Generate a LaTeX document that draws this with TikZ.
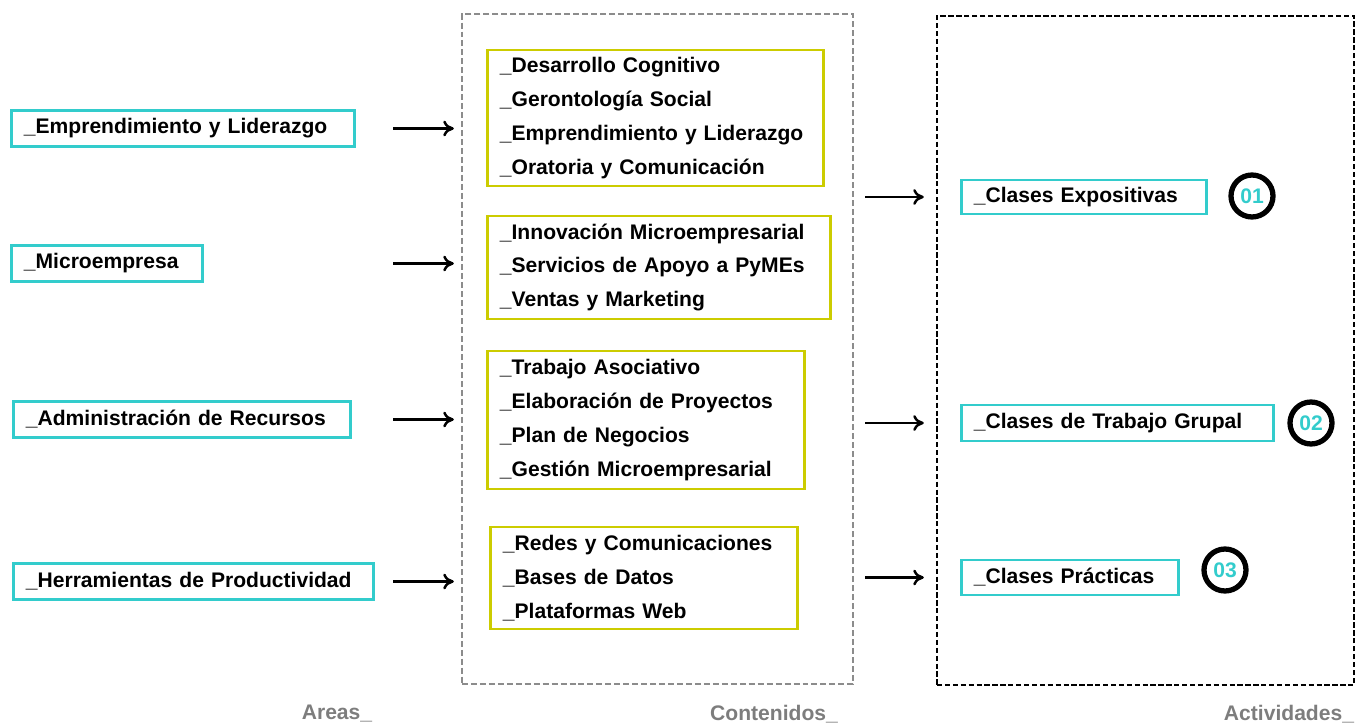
\documentclass[tikz,border=0pt]{standalone}
\usepackage{fontspec}
\setmainfont{Liberation Sans}
\usetikzlibrary{arrows.meta,fit}
\definecolor{areacyan}{RGB}{51,204,204}
\definecolor{contyellow}{RGB}{204,204,0}
\definecolor{dashgray}{RGB}{140,140,140}
\definecolor{footgray}{RGB}{125,125,125}

\begin{document}
\begin{tikzpicture}[x=0.02cm,y=-0.02cm,
  areabox/.style={draw=areacyan,line width=1.6pt,anchor=west,minimum height=0.72cm,
    inner xsep=0.25cm,align=left,font=\bfseries\fontsize{12}{14}\selectfont},
  contbox/.style={draw=contyellow,line width=1.6pt,anchor=west,inner xsep=0.25cm,
    align=left,font=\bfseries\fontsize{12}{19.3}\selectfont},
  numcirc/.style={circle,draw=black,line width=3pt,minimum size=0.84cm,inner sep=0pt,
    text=areacyan,font=\bfseries\fontsize{12}{12}\selectfont},
  foot/.style={text=footgray,font=\bfseries\fontsize{12}{14}\selectfont},
  arr/.style={line width=1.4pt,-{To[length=6pt,width=9pt]}}]
\useasboundingbox (0,0) rectangle (1356,726);

% frames
\node[draw=dashgray,line width=1.4pt,dash pattern=on 3.4pt off 1.7pt,inner sep=0pt,
  fit={(462,14) (853,684)}] (contenidos) {};
\node[draw=black,line width=1.4pt,dash pattern=on 3pt off 1.5pt,inner sep=0pt,
  fit={(937,16) (1354,685)}] (actividades) {};

% areas
\node[areabox,text width=6.36cm] (area1) at (10,128.5) {\_Emprendimiento y Liderazgo};
\node[areabox,text width=3.32cm] (area2) at (10,263.5) {\_Microempresa};
\node[areabox,text width=6.24cm] (area3) at (12,419.5) {\_Administración de Recursos};
\node[areabox,text width=6.7cm] (area4) at (12,581.5) {\_Herramientas de Productividad};

% contenidos
\node[contbox,text width=6.22cm,minimum height=2.72cm] (cont1) at (486,118)
  {\_Desarrollo Cognitivo\\\_Gerontología Social\\\_Emprendimiento y Liderazgo\\\_Oratoria y Comunicación};
\node[contbox,text width=6.36cm,minimum height=2.06cm] (cont2) at (486,267.5)
  {\_Innovación Microempresarial\\\_Servicios de Apoyo a PyMEs\\\_Ventas y Marketing};
\node[contbox,text width=5.84cm,minimum height=2.76cm] (cont3) at (486,420)
  {\_Trabajo Asociativo\\\_Elaboración de Proyectos\\\_Plan de Negocios\\\_Gestión Microempresarial};
\node[contbox,text width=5.64cm,minimum height=2.04cm] (cont4) at (489,578)
  {\_Redes y Comunicaciones\\\_Bases de Datos\\\_Plataformas Web};

% actividades
\node[areabox,text width=4.4cm,minimum height=0.68cm] (clase1) at (960,197) {\_Clases Expositivas};
\node[areabox,text width=5.74cm] (clase2) at (960,423) {\_Clases de Trabajo Grupal};
\node[areabox,text width=3.84cm,minimum height=0.7cm] (clase3) at (960,577.5) {\_Clases Prácticas};
\node[numcirc] (num1) at (1252,196) {01};
\node[numcirc] (num2) at (1311,423) {02};
\node[numcirc] (num3) at (1225,570) {03};

% arrows
\coordinate (lstart) at (393,0);
\coordinate (rstart) at (865,0);
\foreach \a in {area1,area2,area3,area4}
  \draw[arr,shorten >=0.14cm] (\a.east -| lstart) -- (\a.east -| contenidos.west);
\foreach \c in {clase1,clase2,clase3}
  \draw[arr,shorten >=0.24cm] (\c.west -| rstart) -- (\c.west -| actividades.west);

% footers
\node[foot] (fareas) at (337,714) {Areas\_};
\node[foot] (fcont) at (774,714) {Contenidos\_};
\node[foot] (fact) at (1289,714) {Actividades\_};
\end{tikzpicture}
\end{document}
